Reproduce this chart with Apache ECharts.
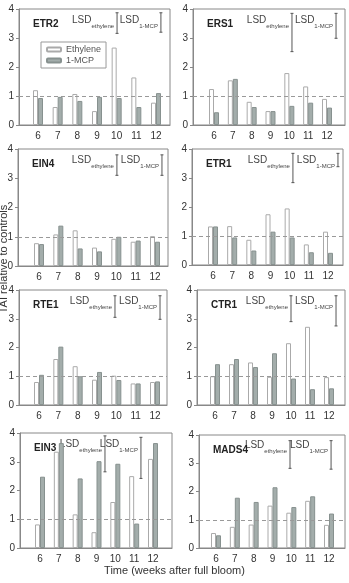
<!DOCTYPE html>
<html>
<head>
<meta charset="utf-8">
<script src="https://cdn.jsdelivr.net/npm/echarts@6/dist/echarts.min.js"></script>
<style>
html,body{margin:0;padding:0;background:#fff;}
#chart{width:349px;height:583px;}
</style>
</head>
<body>
<div id="chart"></div>
<script>
// genes, one panel each
var genes = ['ETR2', 'ERS1', 'EIN4', 'ETR1', 'RTE1', 'CTR1', 'EIN3', 'MADS4'];
var weeks = [6, 7, 8, 9, 10, 11, 12];
var yTicks = [0, 1, 2, 3, 4];

// TAI relative to controls
var ethylene = [
    [1.2, 0.62, 1.07, 0.48, 2.67, 1.64, 0.77],
    [1.24, 1.54, 0.8, 0.48, 1.79, 1.33, 0.9],
    [0.78, 1.08, 1.22, 0.63, 0.93, 0.83, 1.02],
    [1.33, 1.34, 0.87, 1.75, 1.95, 0.71, 1.15],
    [0.8, 1.6, 1.35, 0.88, 1.02, 0.75, 0.8],
    [1.0, 1.42, 1.48, 0.98, 2.15, 2.72, 0.97],
    [0.82, 3.35, 1.17, 0.55, 1.6, 2.5, 3.1],
    [0.53, 0.75, 0.83, 1.5, 1.25, 1.67, 0.82]
];
var mcp = [
    [0.93, 0.97, 0.83, 0.97, 0.93, 0.62, 1.1],
    [0.44, 1.59, 0.62, 0.48, 0.66, 0.77, 0.6],
    [0.75, 1.38, 0.6, 0.5, 1.0, 0.87, 0.83],
    [1.33, 0.95, 0.5, 1.15, 0.95, 0.44, 0.42],
    [1.05, 2.03, 1.0, 1.15, 0.87, 0.75, 0.82],
    [1.42, 1.6, 1.32, 1.8, 0.92, 0.55, 0.58],
    [2.48, 3.65, 2.42, 3.02, 2.93, 0.85, 3.65],
    [0.45, 1.78, 1.63, 2.15, 1.45, 1.83, 1.22]
];

// LSD bars: [x, top, bottom]
var lsdEthylene = [
    [10.02, 3.87, 3.16], [10.14, 3.85, 2.53], [10.03, 3.8, 3.1], [10.17, 3.85, 2.84],
    [9.93, 3.8, 3.05], [10.0, 3.8, 2.9], [9.45, 3.9, 2.65], [9.93, 3.8, 2.82]
];
var lsdMcp = [
    [12.25, 3.87, 3.2], [12.48, 3.85, 2.99], [12.36, 3.8, 3.1], [12.52, 3.85, 3.39],
    [12.26, 3.8, 2.98], [12.37, 3.8, 2.75], [11.36, 3.85, 2.42], [12.11, 3.8, 2.79]
];

// panel frames in px: left, right, top, bottom, x of "6", x of "12"
var frames = [
    [19, 170, 9, 125, 38, 156],
    [193, 345, 9, 125, 214, 327],
    [18, 168, 149, 266, 39, 155],
    [192, 343, 149, 265, 213, 328],
    [19, 167, 290, 405, 39, 155],
    [197, 345, 290, 405, 215, 329],
    [20, 172, 433, 548, 40, 153],
    [199, 345, 435, 548, 216, 329]
];

var font = 'Liberation Sans, Arial, sans-serif';
var myChart = echarts.init(document.getElementById('chart'));

var grids = [], xAxes = [], yAxes = [], series = [], titles = [];

function lsdRender(params, api) {
    var x = api.value(0);
    var p1 = api.coord([x, api.value(1)]);
    var p2 = api.coord([x, api.value(2)]);
    var pt = api.coord([x, 3.55]);
    var sub = api.value(3) === 0 ? 'ethylene' : '1-MCP';
    var c = '#555';
    return {
        type: 'group',
        children: [
            {type: 'line', shape: {x1: p1[0], y1: p1[1], x2: p2[0], y2: p2[1]}, style: {stroke: c, lineWidth: 1}},
            {type: 'line', shape: {x1: p1[0] - 1.5, y1: p1[1], x2: p1[0] + 1.5, y2: p1[1]}, style: {stroke: c, lineWidth: 1}},
            {type: 'line', shape: {x1: p2[0] - 1.5, y1: p2[1], x2: p2[0] + 1.5, y2: p2[1]}, style: {stroke: c, lineWidth: 1}},
            {type: 'text', style: {
                text: '{m|LSD}{s|' + sub + '}',
                x: p1[0] - 3, y: pt[1] - 7,
                align: 'right', verticalAlign: 'top',
                rich: {
                    m: {fontSize: 10, fontFamily: font, fill: '#444', lineHeight: 14, verticalAlign: 'top'},
                    s: {fontSize: 6, fontFamily: font, fill: '#444', lineHeight: 7, verticalAlign: 'bottom'}
                }
            }}
        ]
    };
}

for (var i = 0; i < genes.length; i++) {
    var f = frames[i];
    var u = (f[5] - f[4]) / 6;
    grids.push({
        left: f[0], top: f[2], width: f[1] - f[0], height: f[3] - f[2],
        show: true, borderColor: '#888', borderWidth: 1, backgroundColor: 'transparent'
    });
    xAxes.push({
        gridIndex: i, type: 'value',
        min: 6 - (f[4] - f[0]) / u, max: 12 + (f[1] - f[5]) / u,
        splitLine: {show: false},
        axisLine: {show: true, lineStyle: {color: '#888'}},
        axisTick: {show: false},
        axisLabel: {customValues: weeks, color: '#333', fontSize: 10, fontFamily: font, margin: 6}
    });
    yAxes.push({
        gridIndex: i, type: 'value', min: 0, max: 4, interval: 1,
        splitLine: {show: false},
        axisLine: {show: true, lineStyle: {color: '#888'}},
        axisTick: {show: true, length: 3, lineStyle: {color: '#888'}},
        axisLabel: {color: '#333', fontSize: 10, fontFamily: font, margin: 5,
            formatter: function (v) { return yTicks.indexOf(v) >= 0 ? String(v) : ''; }}
    });
    titles.push({
        text: genes[i], left: f[0] + 9, top: f[2] + 5,
        textStyle: {fontSize: 10, fontWeight: 'bold', color: '#222', fontFamily: font}
    });

    var e = [], m = [];
    for (var j = 0; j < weeks.length; j++) {
        e.push([weeks[j], ethylene[i][j]]);
        m.push([weeks[j], mcp[i][j]]);
    }
    series.push({
        name: 'Ethylene', type: 'bar', xAxisIndex: i, yAxisIndex: i,
        data: e, barWidth: 5, barGap: '0%',
        itemStyle: {color: '#fff', borderColor: '#aaa', borderWidth: 1},
        markLine: {
            silent: true, symbol: 'none', label: {show: false},
            lineStyle: {color: '#999', type: [4, 3], width: 1},
            data: [{yAxis: 1}]
        }
    });
    series.push({
        name: '1-MCP', type: 'bar', xAxisIndex: i, yAxisIndex: i,
        data: m, barWidth: 5, barGap: '0%',
        itemStyle: {color: '#a3adab', borderColor: '#87918f', borderWidth: 1}
    });
    series.push({
        type: 'custom', xAxisIndex: i, yAxisIndex: i, clip: false, silent: true,
        renderItem: lsdRender,
        data: [lsdEthylene[i].concat([0]), lsdMcp[i].concat([1])]
    });
}

var option = {
    animation: false,
    title: titles,
    grid: grids,
    xAxis: xAxes,
    yAxis: yAxes,
    legend: {
        data: ['Ethylene', '1-MCP'],
        orient: 'vertical', left: 41, top: 42,
        padding: [3, 5], itemGap: 2, itemWidth: 14, itemHeight: 4,
        borderColor: '#999', borderWidth: 1,
        textStyle: {fontSize: 9, color: '#555', fontFamily: font}
    },
    graphic: [
        {type: 'text', x: 4, y: 259, rotation: Math.PI / 2,
            style: {text: 'TAI relative to controls', fontSize: 11, fill: '#333', fontFamily: font,
                align: 'center', verticalAlign: 'middle'}},
        {type: 'text', left: 'center', top: 565,
            style: {text: 'Time (weeks after full bloom)', fontSize: 11, fill: '#333', fontFamily: font}}
    ],
    series: series
};
myChart.setOption(option);
</script>
</body>
</html>
